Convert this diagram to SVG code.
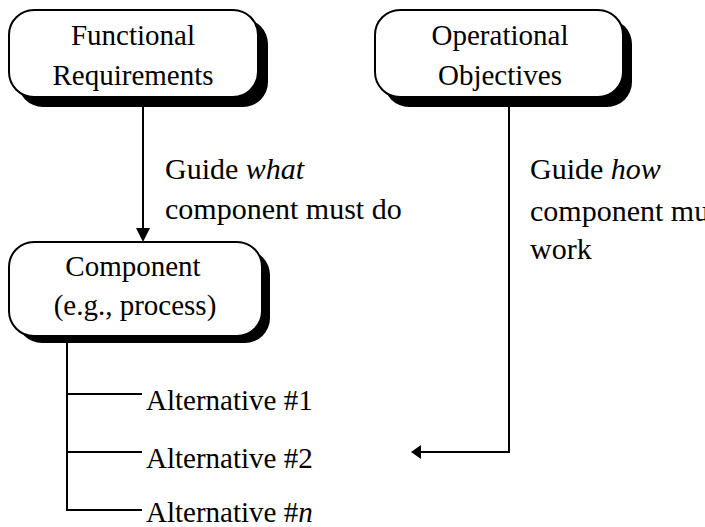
<svg xmlns="http://www.w3.org/2000/svg" width="705" height="527" viewBox="0 0 705 527">
  <style>
    text { font-family: "Liberation Serif", "Times New Roman", serif; font-size: 29px; fill: #000; }
    .mid { text-anchor: middle; }
    .note { font-size: 30px; }
    .shadow { fill: #000; stroke: none; }
    .box { fill: #fff; stroke: #000; stroke-width: 2; }
    .wire { fill: none; stroke: #000; stroke-width: 2; }
  </style>

  <!-- connectors -->
  <g id="connectors">
    <line class="wire" x1="143" y1="97" x2="143" y2="228"/>
    <path d="M136,228 L150,228 L143,242 z" fill="#000"/>
    <polyline class="wire" points="509,97 509,452 420,452"/>
    <path d="M421,445 L421,459 L411,452 z" fill="#000"/>
    <polyline class="wire" points="67,336 67,510 142,510"/>
    <line class="wire" x1="67" y1="394" x2="142" y2="394"/>
    <line class="wire" x1="67" y1="452" x2="142" y2="452"/>
  </g>

  <g id="functional-requirements">
    <rect class="shadow" x="18" y="19" width="250" height="88" rx="25"/>
    <rect class="box" x="9" y="10" width="249" height="87" rx="25"/>
    <text class="mid" x="133" y="45">Functional</text>
    <text class="mid" x="133" y="85">Requirements</text>
  </g>

  <g id="operational-objectives">
    <rect class="shadow" x="384" y="19" width="248" height="88" rx="25"/>
    <rect class="box" x="375" y="10" width="248" height="87" rx="25"/>
    <text class="mid" x="500" y="45">Operational</text>
    <text class="mid" x="500" y="85">Objectives</text>
  </g>

  <g id="component">
    <rect class="shadow" x="17" y="250" width="253" height="93" rx="25"/>
    <rect class="box" x="9" y="242" width="253" height="94" rx="25"/>
    <text class="mid" x="133" y="276">Component</text>
    <text class="mid" x="135" y="315">(e.g., process)</text>
  </g>

  <g id="label-what">
    <text class="note" x="165" y="179">Guide <tspan font-style="italic">what</tspan></text>
    <text class="note" x="165" y="219">component must do</text>
  </g>

  <g id="label-how">
    <text class="note" x="530" y="179">Guide <tspan font-style="italic">how</tspan></text>
    <text class="note" x="530" y="221">component must</text>
    <text class="note" x="530" y="259">work</text>
  </g>

  <g id="alternatives">
    <text x="146" y="410">Alternative #1</text>
    <text x="146" y="468">Alternative #2</text>
    <text x="146" y="522">Alternative #<tspan font-style="italic">n</tspan></text>
  </g>
</svg>
